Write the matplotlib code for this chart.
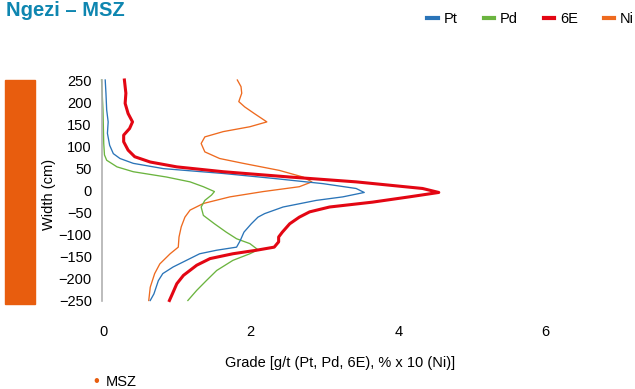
import matplotlib.pyplot as plt
from matplotlib.patches import Rectangle
from matplotlib.lines import Line2D
from matplotlib import font_manager

plt.rcParams['font.family'] = ['Liberation Sans', 'DejaVu Sans']

# 6E profile (grade vs width)
e6_width = [250, 220, 197, 174, 155, 140, 125, 110, 91, 76, 64, 53, 42, 30, 19, 4, -5,
            -15, -27, -38, -49, -61, -76, -95, -106, -117, -129, -136, -144, -155, -170,
            -193, -212, -235, -250]
e6_grade = [0.29, 0.31, 0.30, 0.34, 0.40, 0.36, 0.28, 0.28, 0.34, 0.43, 0.64, 1.00, 1.63,
            2.53, 3.43, 4.33, 4.55, 4.15, 3.65, 3.07, 2.80, 2.66, 2.53, 2.43, 2.38, 2.38,
            2.32, 2.08, 1.76, 1.45, 1.27, 1.09, 1.00, 0.94, 0.90]

# Pt
pt_width = [250, 220, 182, 155, 129, 102, 83, 72, 61, 49, 38, 27, 15, 4, -5, -15, -23,
            -38, -53, -61, -76, -95, -114, -129, -136, -144, -159, -174, -189, -205,
            -235, -250]
pt_grade = [0.03, 0.04, 0.05, 0.07, 0.06, 0.09, 0.14, 0.23, 0.41, 0.82, 1.63, 2.30, 2.98,
            3.43, 3.54, 3.25, 2.89, 2.44, 2.19, 2.10, 2.01, 1.91, 1.86, 1.81, 1.54, 1.31,
            1.13, 0.95, 0.81, 0.75, 0.69, 0.64]

# Pd
pd_width = [250, 182, 106, 80, 68, 53, 42, 30, 19, 8, -3, -11, -23, -38, -57, -76, -95,
            -110, -121, -135, -144, -159, -182, -205, -227, -250]
pd_grade = [-0.02, 0.0, 0.01, 0.02, 0.05, 0.19, 0.41, 0.86, 1.18, 1.36, 1.51, 1.47, 1.38,
            1.33, 1.36, 1.51, 1.67, 1.81, 1.99, 2.10, 1.99, 1.76, 1.54, 1.40, 1.27, 1.15]

# Ni (% x 10)
ni_width = [250, 235, 220, 201, 189, 174, 155, 144, 133, 121, 106, 87, 72, 61, 45, 30,
            19, 8, -3, -15, -30, -45, -61, -83, -106, -129, -144, -167, -189, -220, -250]
ni_grade = [1.82, 1.87, 1.88, 1.84, 1.92, 2.05, 2.22, 1.99, 1.63, 1.38, 1.33, 1.38, 1.58,
            1.90, 2.39, 2.71, 2.83, 2.66, 2.17, 1.72, 1.36, 1.18, 1.11, 1.06, 1.03, 1.02,
            0.91, 0.77, 0.70, 0.64, 0.62]

x_ticks = [0, 2, 4, 6]
y_ticks = [250, 200, 150, 100, 50, 0, -50, -100, -150, -200, -250]

BLUE = "#2a74b8"
GREEN = "#6bb43f"
RED = "#e30613"
ORANGE = "#ee6a1f"

fig = plt.figure(figsize=(6.35, 3.89), dpi=100)
ax = fig.add_axes([103 / 635, 1 - 300.5 / 389, 442.8 / 635, 220.5 / 389])

ax.plot(ni_grade, ni_width, color=ORANGE, lw=0.95, clip_on=False)
ax.plot(pd_grade, pd_width, color=GREEN, lw=0.95, clip_on=False)
ax.plot(pt_grade, pt_width, color=BLUE, lw=0.95, clip_on=False)
ax.plot(e6_grade, e6_width, color=RED, lw=2.2, clip_on=False)

ax.set_xlim(0, 6)
ax.set_ylim(-250, 250)
ax.set_xticks(x_ticks)
ax.set_yticks(y_ticks)
ax.tick_params(length=0, labelsize=10.5)
ax.tick_params(axis='x', pad=18)
ax.tick_params(axis='y', pad=7)
for s in ["top", "right", "bottom"]:
    ax.spines[s].set_visible(False)
ax.spines["left"].set_color("#b0b0b0")
ax.spines["left"].set_linewidth(1.2)
ax.spines["left"].set_position(("data", -0.02))

ax.set_ylabel("Width (cm)", fontsize=10.5)
ax.yaxis.set_label_coords(48.5 / 635, 0.5, transform=fig.transFigure)
ax.yaxis.label.set_va("center")

fig.text(340 / 635, 1 - 363 / 389, "Grade [g/t (Pt, Pd, 6E), % x 10 (Ni)]",
         ha="center", va="center", fontsize=10.5)

# title, condensed bold if we have it, kept just inside the top edge
try:
    font_manager.findfont(font_manager.FontProperties(family="Liberation Sans Narrow"),
                          fallback_to_default=False)
    title_family, title_size = "Liberation Sans Narrow", 16
except Exception:
    title_family, title_size = "Liberation Sans", 14.5
fig.text(6 / 635, 1 - 16 / 389, "Ngezi – MSZ", ha="left", va="baseline",
         fontsize=title_size, fontweight="bold", color="#0e86b0",
         family=[title_family, "DejaVu Sans"])

# orange zone bar on the left
fig.patches.append(Rectangle((5 / 635, 1 - 304 / 389), 30 / 635, 224 / 389,
                             transform=fig.transFigure, color="#e85d0e"))

handles = [Line2D([], [], color=c, lw=3) for c in (BLUE, GREEN, RED, ORANGE)]
fig.legend(handles, ["Pt", "Pd", "6E", "Ni"], loc="center right",
           bbox_to_anchor=(634 / 635, 1 - 19 / 389), ncol=4, frameon=False,
           fontsize=10.5, handlelength=0.7, handletextpad=0.4, columnspacing=1.8,
           borderaxespad=0, borderpad=0)

fig.text(96 / 635, 1 - 381.5 / 389, "•", color="#e85d0e", ha="center", va="center",
         fontsize=12)
fig.text(106 / 635, 1 - 381.5 / 389, "MSZ", ha="left", va="center", fontsize=10.5)

fig.savefig("out.png", dpi=100)
